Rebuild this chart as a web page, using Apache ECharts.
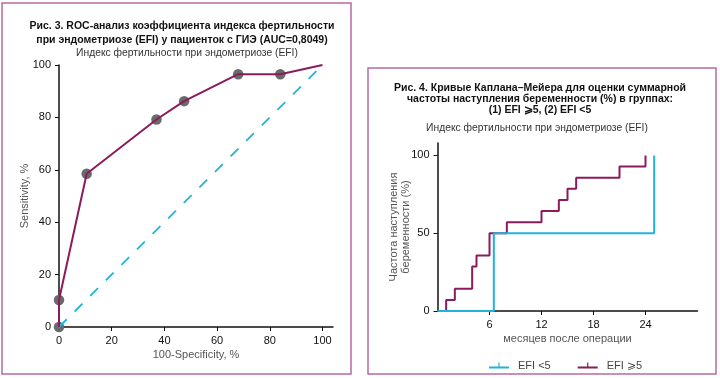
<!DOCTYPE html>
<html><head><meta charset="utf-8">
<script src="https://cdn.jsdelivr.net/npm/echarts@6/dist/echarts.min.js"></script>
<style>html,body{margin:0;padding:0;background:#fff}#c{width:720px;height:378px}</style>
</head><body><div id="c"></div>
<script>
// ROC curve (Fig. 3)
const rocX = [0, 0, 10.5, 37, 47.5, 68, 84, 100];
const rocY = [0, 10.3, 58.5, 79.2, 86.2, 96.5, 96.5, 100];
const diagX = [0, 100];
const diagY = [0, 100];
const rocXTicks = [0, 20, 40, 60, 80, 100];
const rocYTicks = [0, 20, 40, 60, 80, 100];
// Kaplan-Meier (Fig. 4)
const kmHighX = [0, 1, 2, 4, 4.5, 6, 8, 12, 14, 15, 16, 21, 24];
const kmHighY = [0, 7.1, 14.3, 28.6, 35.7, 50, 57.1, 64.3, 71.4, 78.6, 85.7, 92.9, 100];
const kmLowX = [0, 6.5, 25];
const kmLowY = [0, 50, 100];
const kmXTicks = [6, 12, 18, 24];
const kmYTicks = [0, 50, 100];
const legendNames = ['EFI <5', 'EFI \u2a7e5'];

const PURPLE = '#8a1b5d', CYAN = '#22b4d8', GRAY = '#6a6a6a', BORDER = '#b86aa2';
const FONT = 'Liberation Sans';
const zip = (a, b) => a.map((v, i) => [v, b[i]]);

const chart = echarts.init(document.getElementById('c'), null, {renderer: 'canvas'});
const axisCommon = {
  axisLine: {show: true, lineStyle: {color: '#111', width: 1.5}},
  axisTick: {show: true, length: 4, lineStyle: {color: '#111', width: 1}},
  axisLabel: {color: '#111', fontSize: 11, fontFamily: FONT},
  splitLine: {show: false},
  nameMoveOverlap: false,
  nameTextStyle: {color: '#555', fontSize: 11, fontFamily: FONT}
};
const censor = 'path://M0,5 L20,5 L20,7 L0,7 Z M9.4,1 L10.6,1 L10.6,5 L9.4,5 Z';

chart.setOption({
  animation: false,
  textStyle: {fontFamily: FONT},
  title: [
    {text: 'Рис. 3. ROC-анализ коэффициента индекса фертильности\nпри эндометриозе (EFI) у пациенток с ГИЭ (AUC=0,8049)',
     left: 177, top: 14, textAlign: 'center',
     textStyle: {fontSize: 10.5, fontWeight: 'bold', color: '#111', lineHeight: 14, fontFamily: FONT}},
    {text: 'Индекс фертильности при эндометриозе (EFI)', left: 182, top: 43, textAlign: 'center',
     textStyle: {fontSize: 10.3, fontWeight: 'normal', color: '#333', fontFamily: FONT}},
    {text: 'Рис. 4. Кривые Каплана–Мейера для оценки суммарной\nчастоты наступления беременности (%) в группах:\n(1) EFI \u2a7e5, (2) EFI <5',
     left: 535, top: 78, textAlign: 'center',
     textStyle: {fontSize: 10.5, fontWeight: 'bold', color: '#111', lineHeight: 11, fontFamily: FONT}},
    {text: 'Индекс фертильности при эндометриозе (EFI)', left: 532, top: 118, textAlign: 'center',
     textStyle: {fontSize: 10.3, fontWeight: 'normal', color: '#333', fontFamily: FONT}}
  ],
  graphic: [
    {type: 'rect', shape: {x: 2, y: 3, width: 349, height: 371}, style: {fill: 'none', stroke: BORDER, lineWidth: 1.5}},
    {type: 'rect', shape: {x: 368, y: 68, width: 348, height: 306}, style: {fill: 'none', stroke: BORDER, lineWidth: 1.5}}
  ],
  legend: {
    data: [legendNames[0], legendNames[1]],
    left: 484, top: 355, itemWidth: 20, itemHeight: 7, itemGap: 27,
    icon: censor,
    textStyle: {color: '#444', fontSize: 11, fontFamily: FONT, padding: [0, 0, 0, 4]}
  },
  grid: [
    {left: 59, top: 65, width: 274, height: 262},
    {left: 437.5, top: 143, width: 260, height: 168}
  ],
  xAxis: [
    Object.assign({}, axisCommon, {gridIndex: 0, type: 'value', min: 0, max: 104, interval: 20,
      name: '100-Specificity, %', nameLocation: 'middle', nameGap: 22,
      axisLabel: Object.assign({}, axisCommon.axisLabel, {customValues: rocXTicks, margin: 8}),
      axisTick: Object.assign({}, axisCommon.axisTick, {customValues: rocXTicks})}),
    Object.assign({}, axisCommon, {gridIndex: 1, type: 'value', min: 0, max: 30, interval: 6,
      name: 'месяцев после операции', nameLocation: 'middle', nameGap: 22,
      axisLabel: Object.assign({}, axisCommon.axisLabel, {customValues: kmXTicks, margin: 8}),
      axisTick: Object.assign({}, axisCommon.axisTick, {customValues: kmXTicks})})
  ],
  yAxis: [
    Object.assign({}, axisCommon, {gridIndex: 0, type: 'value', min: 0, max: 100, interval: 20,
      name: 'Sensitivity, %', nameLocation: 'middle', nameGap: 29,
      axisLabel: Object.assign({}, axisCommon.axisLabel, {customValues: rocYTicks, margin: 8}),
      axisTick: Object.assign({}, axisCommon.axisTick, {customValues: rocYTicks})}),
    Object.assign({}, axisCommon, {gridIndex: 1, type: 'value', min: 0, max: 108, interval: 50,
      name: 'Частота наступления\nбеременности (%)', nameLocation: 'middle', nameGap: 26,
      nameTextStyle: {color: '#555', fontSize: 11, fontFamily: FONT, lineHeight: 12},
      axisLabel: Object.assign({}, axisCommon.axisLabel, {customValues: kmYTicks, margin: 8}),
      axisTick: Object.assign({}, axisCommon.axisTick, {customValues: kmYTicks})})
  ],
  series: [
    {type: 'line', xAxisIndex: 0, yAxisIndex: 0, data: zip(diagX, diagY), symbol: 'none',
     lineStyle: {color: CYAN, width: 1.8, type: [11, 11]}, silent: true},
    {type: 'line', xAxisIndex: 0, yAxisIndex: 0, data: zip(rocX, rocY), symbol: 'none',
     lineStyle: {color: PURPLE, width: 2}, silent: true},
    {type: 'scatter', xAxisIndex: 0, yAxisIndex: 0, data: zip(rocX, rocY).slice(0, -1), symbolSize: 10.5,
     itemStyle: {color: GRAY, opacity: 1}, silent: true},
    {name: legendNames[1], type: 'line', xAxisIndex: 1, yAxisIndex: 1, data: zip(kmHighX, kmHighY), step: 'end',
     symbol: 'none', color: PURPLE, lineStyle: {color: PURPLE, width: 2}, silent: true},
    {name: legendNames[0], type: 'line', xAxisIndex: 1, yAxisIndex: 1, data: zip(kmLowX, kmLowY), step: 'end',
     symbol: 'none', color: CYAN, lineStyle: {color: CYAN, width: 2}, silent: true}
  ]
});
</script></body></html>
